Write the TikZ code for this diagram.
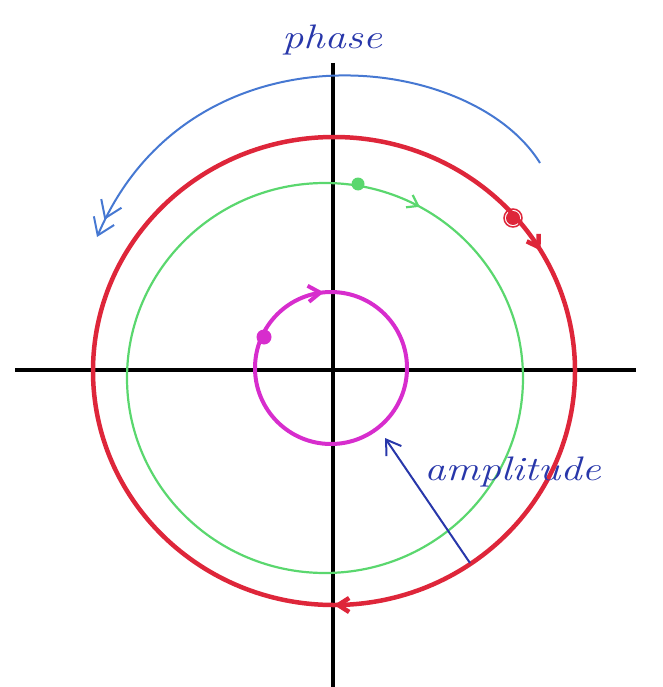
\documentclass[tikz,border=0pt]{standalone}
\usetikzlibrary{arrows.meta,decorations.markings}
\definecolor{cred}{RGB}{222,38,58}
\definecolor{cgreen}{RGB}{90,215,110}
\definecolor{cmag}{RGB}{215,45,205}
\definecolor{cblue}{RGB}{70,120,210}
\definecolor{cdblue}{RGB}{40,55,170}
\tikzset{
  axis/.style={line width=3.5pt, black},
  redc/.style={line width=4.5pt, cred},
  greenc/.style={line width=2.2pt, cgreen},
  magc/.style={line width=4pt, cmag},
  rbarb/.tip={Straight Barb[length=11pt,width=14pt]},
  lbl/.style={font=\fontsize{34}{36}\selectfont\itshape, text=cdblue, inner sep=0pt, xscale=1.25},
}
\begin{document}
\begin{tikzpicture}[x=1pt,y=-1pt]
\useasboundingbox (0,0) rectangle (662,687);
% axes
\coordinate (xl) at (15,370);
\coordinate (xr) at (636,370);
\coordinate (yt) at (333,63);
\coordinate (yb) at (333,687);
\draw[axis] (xl) -- (xr);
\draw[axis] (yt) -- (yb);
% red circle
\coordinate (cr) at (334,371);
\draw[redc, postaction={decorate}, decoration={markings,
   mark=at position 0.25 with {\arrow{rbarb}},
   mark=at position 0.915 with {\arrow{rbarb}}}]
  (cr) ++(0:241) arc[start angle=0, end angle=360, x radius=241, y radius=234];
\fill[cred] (513,218) circle[radius=7];
\draw[cred, line width=1.5pt] (513,218) circle[radius=9];
% green circle
\coordinate (cg) at (325,378);
\draw[greenc, postaction={decorate}, decoration={markings,
   mark=at position 0.83 with {\arrow{Straight Barb[length=10pt,width=14pt]}}}]
  (cg) ++(0:198) arc[start angle=0, end angle=360, x radius=198, y radius=195];
\fill[cgreen] (358,184) circle[radius=6.5];
% magenta circle
\coordinate (cm) at (331,368);
\draw[magc, postaction={decorate}, decoration={markings,
   mark=at position 0.735 with {\arrow{Straight Barb[length=12pt,width=16pt]}}}]
  (cm) ++(0:76) arc[start angle=0, end angle=360, radius=76];
\fill[cmag] (264,337) circle[radius=7.5];
% phase arrow
\coordinate (pstart) at (540,163);
\coordinate (pend) at (97,237);
\draw[cblue, line width=2pt, -{Straight Barb[length=16pt,width=22pt] Straight Barb[length=16pt,width=22pt]}]
  (pstart) .. controls (470,50) and (190,20) .. (pend);
\node[lbl] (phase) at (332,40) {phase};
% amplitude arrow
\coordinate (atail) at (470,563);
\coordinate (ahead) at (385,438);
\draw[cdblue, line width=2pt, -{Straight Barb[length=14pt,width=18pt]}] (atail) -- (ahead);
\node[lbl, anchor=west] (ampl) at (424,472) {amplitude};
\end{tikzpicture}
\end{document}
